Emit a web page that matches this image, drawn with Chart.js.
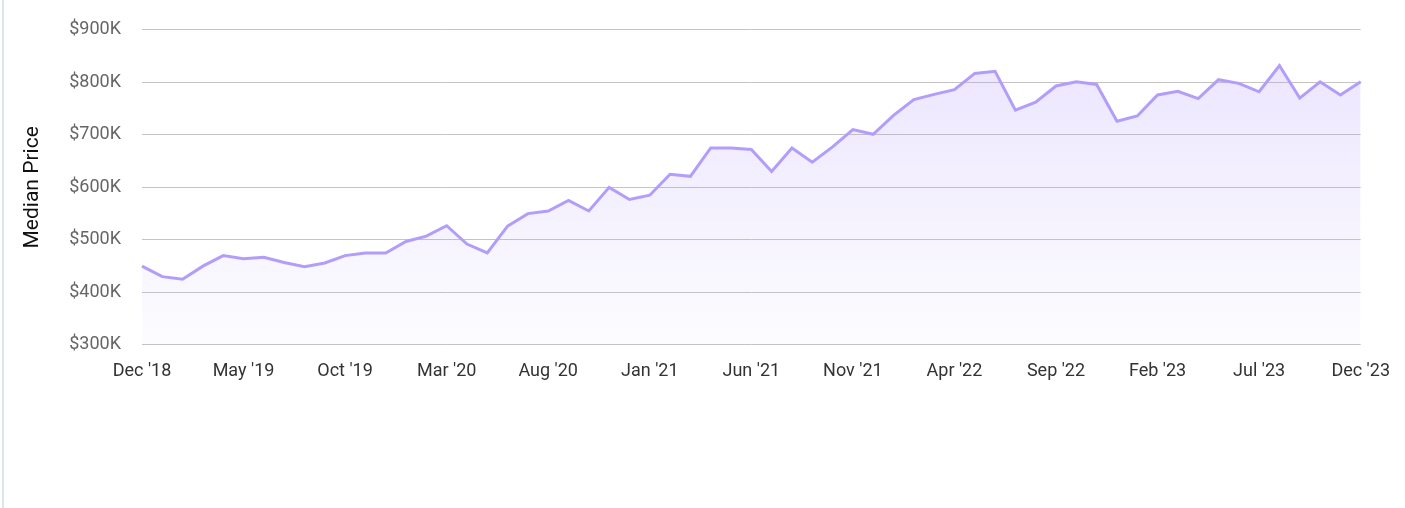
<!DOCTYPE html>
<html>
<head>
<meta charset="utf-8">
<script src="https://cdn.jsdelivr.net/npm/chart.js@4"></script>
<style>
  html, body { margin: 0; padding: 0; background: #fff; }
  .wrap {
    position: absolute; left: 2px; top: 0;
    width: 1403px; height: 508px;
    border-left: 2px solid #dfe3ee;
    box-sizing: border-box;
  }
  .chart-box { position: relative; top: -2.5px; width: 1394px; height: 392.5px; }
</style>
</head>
<body>
<div class="wrap">
  <div class="chart-box"><canvas id="priceChart"></canvas></div>
</div>
<script>
// months, Dec '18 .. Dec '23
const months = [
  "Dec '18", "Jan '19", "Feb '19", "Mar '19", "Apr '19", "May '19", "Jun '19", "Jul '19", "Aug '19", "Sep '19",
  "Oct '19", "Nov '19", "Dec '19", "Jan '20", "Feb '20", "Mar '20", "Apr '20", "May '20", "Jun '20", "Jul '20",
  "Aug '20", "Sep '20", "Oct '20", "Nov '20", "Dec '20", "Jan '21", "Feb '21", "Mar '21", "Apr '21", "May '21",
  "Jun '21", "Jul '21", "Aug '21", "Sep '21", "Oct '21", "Nov '21", "Dec '21", "Jan '22", "Feb '22", "Mar '22",
  "Apr '22", "May '22", "Jun '22", "Jul '22", "Aug '22", "Sep '22", "Oct '22", "Nov '22", "Dec '22", "Jan '23",
  "Feb '23", "Mar '23", "Apr '23", "May '23", "Jun '23", "Jul '23", "Aug '23", "Sep '23", "Oct '23", "Nov '23",
  "Dec '23"
];

// median price, in thousands of dollars
const medianPrice = [
  450, 430, 425, 450, 470, 464, 467, 457, 449, 456,
  470, 475, 475, 497, 507, 527, 492, 475, 526, 550,
  555, 575, 555, 600, 577, 585, 625, 621, 675, 675,
  672, 630, 675, 648, 677, 710, 701, 737, 767, 777,
  786, 817, 821, 747, 762, 793, 801, 796, 726, 736,
  776, 783, 769, 805, 798, 782, 832, 770, 801, 776,
  801
];

const yTicks = [300, 400, 500, 600, 700, 800, 900];
const tickEvery = 5;

const lineColor = '#b39dfa';

new Chart(document.getElementById('priceChart'), {
  type: 'line',
  data: {
    labels: months,
    datasets: [{
      label: 'Median Price',
      data: medianPrice.map(v => v * 1000),
      borderColor: lineColor,
      borderWidth: 3,
      pointRadius: 0,
      tension: 0,
      fill: 'origin',
      backgroundColor: (ctx) => {
        const area = ctx.chart.chartArea;
        if (!area) return 'rgba(179,157,250,0.15)';
        const g = ctx.chart.ctx.createLinearGradient(0, area.top, 0, area.bottom);
        g.addColorStop(0, 'rgba(179,157,250,0.28)');
        g.addColorStop(1, 'rgba(179,157,250,0.03)');
        return g;
      }
    }]
  },
  options: {
    responsive: true,
    maintainAspectRatio: false,
    animation: false,
    layout: { padding: { top: 15.5, right: 16, left: 8, bottom: 0 } },
    plugins: {
      legend: { display: false },
      tooltip: { enabled: false }
    },
    scales: {
      x: {
        grid: { display: false },
        border: { display: false },
        ticks: {
          autoSkip: false,
          maxRotation: 0,
          padding: 8,
          color: '#333',
          font: { family: 'Roboto', size: 18 },
          callback: function (val, i) {
            return i % tickEvery === 0 ? months[i] : null;
          }
        }
      },
      y: {
        min: yTicks[0] * 1000,
        max: yTicks[yTicks.length - 1] * 1000,
        afterBuildTicks: (axis) => { axis.ticks = yTicks.map(v => ({ value: v * 1000 })); },
        grid: { color: '#c4c4c4', lineWidth: 1, drawTicks: false },
        border: { display: false },
        title: {
          display: true,
          text: 'Median Price',
          color: '#111',
          font: { family: 'Roboto', size: 21 },
          padding: { top: 8, bottom: 3 }
        },
        ticks: {
          padding: 21,
          color: '#666',
          font: { family: 'Roboto', size: 18 },
          callback: (v) => '$' + (v / 1000) + 'K'
        }
      }
    }
  }
});
</script>
</body>
</html>
